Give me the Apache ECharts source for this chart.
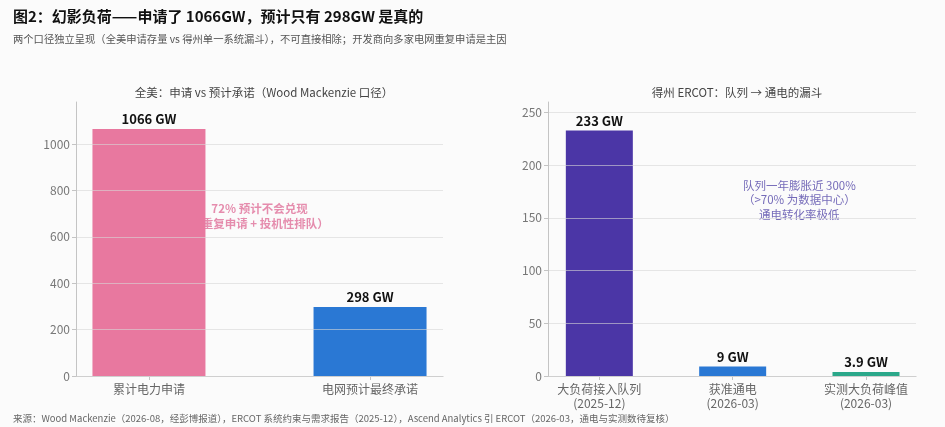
<!DOCTYPE html>
<html>
<head>
<meta charset="utf-8">
<script src="https://cdn.jsdelivr.net/npm/echarts@6/dist/echarts.min.js"></script>
<style>
html,body{margin:0;padding:0;background:#fbfbfb;}
#c{width:945px;height:427px;}
</style>
</head>
<body>
<div id="c"></div>
<script>
// ---- data ----
const leftCats = ['累计电力申请', '电网预计最终承诺'];
const leftValues = [1066, 298];
const leftLabels = ['1066 GW', '298 GW'];
const leftColors = ['#E8789F', '#2A78D4'];
const leftTicks = [0, 200, 400, 600, 800, 1000];

const rightCats = ['大负荷接入队列\n(2025-12)', '获准通电\n(2026-03)', '实测大负荷峰值\n(2026-03)'];
const rightValues = [233, 9, 3.9];
const rightLabels = ['233 GW', '9 GW', '3.9 GW'];
const rightColors = ['#4B36A6', '#2A78D4', '#2BA88A'];
const rightTicks = [0, 50, 100, 150, 200, 250];

const leftNote = '72% 预计不会兑现\n（重复申请 + 投机性排队）';
const rightNote = '队列一年膨胀近 300%\n（>70% 为数据中心）\n通电转化率极低';

const FONT = '"Noto Sans CJK SC", "Noto Sans", sans-serif';

const chart = echarts.init(document.getElementById('c'));

function xAx(idx, cats, min, max) {
  return {
    type: 'value', gridIndex: idx, min: min, max: max,
    splitLine: {show: false},
    axisLine: {show: true, onZero: false, lineStyle: {color: '#c4c4c4'}},
    axisTick: {show: true, customValues: cats.map((c, i) => i), length: 4, lineStyle: {color: '#c4c4c4'}},
    axisLabel: {customValues: cats.map((c, i) => i), formatter: v => cats[Math.round(v)],
      color: '#666', fontSize: 12, fontFamily: FONT, lineHeight: 14, margin: 6}
  };
}
function yAx(idx, max, ticks) {
  return {
    type: 'value', gridIndex: idx, min: 0, max: max, z: 5,
    axisLine: {show: true, onZero: false, lineStyle: {color: '#c4c4c4'}},
    axisTick: {show: true, customValues: ticks, length: 4, lineStyle: {color: '#c4c4c4'}},
    axisLabel: {customValues: ticks, formatter: v => String(v), color: '#777', fontSize: 12, fontFamily: FONT, margin: 6},
    splitLine: {show: true, customValues: ticks, lineStyle: {color: 'rgba(215,215,215,0.6)', width: 1}}
  };
}

chart.setOption({
  backgroundColor: '#fbfbfb',
  animation: false,
  title: [
    {text: '图2：幻影负荷——申请了 1066GW，预计只有 298GW 是真的', left: 8, top: 4,
      textStyle: {fontSize: 15, fontWeight: 'bold', color: '#111', fontFamily: FONT}},
    {text: '两个口径独立呈现（全美申请存量 vs 得州单一系统漏斗），不可直接相除；开发商向多家电网重复申请是主因', left: 8, top: 29,
      textStyle: {fontSize: 10.3, fontWeight: 'normal', color: '#555', fontFamily: FONT}},
    {text: '全美：申请 vs 预计承诺（Wood Mackenzie 口径）', left: 259, top: 82, textAlign: 'center',
      textStyle: {fontSize: 11.5, fontWeight: 'normal', color: '#444', fontFamily: FONT}},
    {text: '得州 ERCOT：队列 → 通电的漏斗', left: 732, top: 82, textAlign: 'center',
      textStyle: {fontSize: 11.5, fontWeight: 'normal', color: '#444', fontFamily: FONT}},
    {text: '来源：Wood Mackenzie（2026-08，经彭博报道），ERCOT 系统约束与需求报告（2025-12），Ascend Analytics 引 ERCOT（2026-03，通电与实测数待复核）',
      left: 8, top: 409, textStyle: {fontSize: 9.5, fontWeight: 'normal', color: '#666', fontFamily: FONT}}
  ],
  grid: [
    {left: 76, right: 945 - 443, top: 102, bottom: 51},
    {left: 548, right: 945 - 916, top: 102, bottom: 51}
  ],
  xAxis: [xAx(0, leftCats, -0.33, 1.33), xAx(1, rightCats, -0.385, 2.375)],
  yAxis: [yAx(0, 1182, leftTicks), yAx(1, 260, rightTicks)],
  series: [
    {
      type: 'bar', xAxisIndex: 0, yAxisIndex: 0, barWidth: 113, z: 2,
      data: leftValues.map((v, i) => ({value: [i, v], itemStyle: {color: leftColors[i]},
        label: {formatter: leftLabels[i]}})),
      label: {show: true, position: 'top', distance: 3, color: '#111', fontWeight: 'bold', fontSize: 13, fontFamily: FONT}
    },
    {
      type: 'scatter', xAxisIndex: 0, yAxisIndex: 0, z: 1, symbolSize: 0, silent: true,
      data: [[0.5, 690]],
      label: {show: true, position: 'inside', formatter: leftNote, color: '#E0709A', fontWeight: 'bold',
        fontSize: 11.5, lineHeight: 15, align: 'center', fontFamily: FONT}
    },
    {
      type: 'bar', xAxisIndex: 1, yAxisIndex: 1, barWidth: 67, z: 2,
      data: rightValues.map((v, i) => ({value: [i, v], itemStyle: {color: rightColors[i]},
        label: {formatter: rightLabels[i]}})),
      label: {show: true, position: 'top', distance: 3, color: '#111', fontWeight: 'bold', fontSize: 13, fontFamily: FONT}
    },
    {
      type: 'scatter', xAxisIndex: 1, yAxisIndex: 1, z: 1, symbolSize: 0, silent: true,
      data: [[1.5, 167]],
      label: {show: true, position: 'inside', formatter: rightNote, color: '#5346A8',
        fontSize: 11.5, lineHeight: 14.5, align: 'center', fontFamily: FONT}
    }
  ]
});
</script>
</body>
</html>
